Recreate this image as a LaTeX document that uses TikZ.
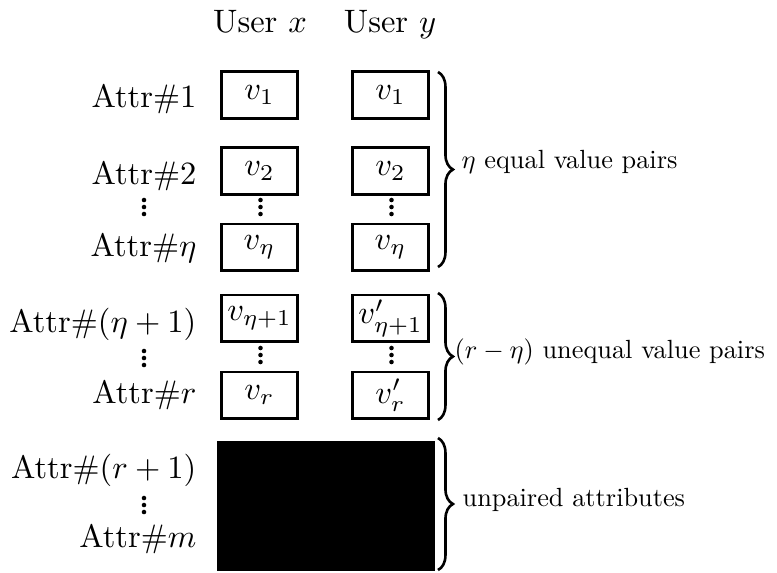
\documentclass[tikz,border=0pt]{standalone}
\usetikzlibrary{decorations.pathreplacing}
\newcommand{\notetext}[1]{\scalebox{0.81}{#1}}
\begin{document}
\begin{tikzpicture}[x=0.308pt,y=-0.308pt,
  valbox/.style={draw,line width=0.9pt,minimum width=23.3pt,minimum height=14.2pt,inner sep=0pt},
  blackbox/.style={fill=black,draw=black},
  attr/.style={anchor=base east,inner sep=0pt},
  head/.style={anchor=base,inner sep=0pt},
  note/.style={anchor=base west,inner sep=0pt},
  brc/.style={decorate,decoration={brace,amplitude=4.6pt},line width=0.8pt},
  vdot/.style={fill=black,circle,inner sep=0pt,minimum size=1.4pt}]
\useasboundingbox (0,0) rectangle (777,572);

% column headings
\node[head] (ux) at (260,32) {User $x$};
\node[head] (uy) at (390,32) {User $y$};

% attribute names
\node[attr] (a1)  at (197,107) {Attr\#1};
\node[attr] (a2)  at (197,184) {Attr\#2};
\node[attr] (ae)  at (197,256) {Attr\#$\eta$};
\node[attr] (ae1) at (197,332) {Attr\#$(\eta+1)$};
\node[attr] (ar)  at (197,403) {Attr\#$r$};
\node[attr] (ar1) at (197,478) {Attr\#$(r+1)$};
\node[attr] (am)  at (197,547) {Attr\#$m$};

% value boxes of user x
\node[valbox] (x1)  at (259.5,95)  {$v_1$};
\node[valbox] (x2)  at (259.5,171) {$v_2$};
\node[valbox] (xe)  at (259.5,247) {$v_\eta$};
\node[valbox] (xe1) at (259.5,318) {$v_{\eta+1}$};
\node[valbox] (xr)  at (259.5,395) {$v_r$};

% value boxes of user y
\node[valbox] (y1)  at (390.5,95)  {$v_1$};
\node[valbox] (y2)  at (390.5,171) {$v_2$};
\node[valbox] (ye)  at (390.5,247) {$v_\eta$};
\node[valbox] (ye1) at (390.5,318) {$v'_{\eta+1}$};
\node[valbox] (yr)  at (390.5,395) {$v'_r$};

% unpaired attributes
\node[blackbox,minimum width=67pt,minimum height=39.4pt,inner sep=0pt] (blk) at (326,506) {};

% vertical ellipses
\foreach \cx/\cy in {144/207, 260.5/207, 391.5/207, 144/358, 260.5/355, 391.5/355, 144/505}{
  \node[vdot] at (\cx,\cy-7) {};
  \node[vdot] at (\cx,\cy) {};
  \node[vdot] at (\cx,\cy+7) {};
}

% braces
\coordinate (b1t) at (438,72);  \coordinate (b1b) at (438,267);
\coordinate (b2t) at (438,293); \coordinate (b2b) at (438,420);
\coordinate (b3t) at (438,438); \coordinate (b3b) at (438,570);
\draw[brc] (b1t) -- (b1b);
\draw[brc] (b2t) -- (b2b);
\draw[brc] (b3t) -- (b3b);

\node[note] (n1) at (461,168) {\notetext{$\eta$ equal value pairs}};
\node[note] (n2) at (454,358) {\notetext{$(r-\eta)$ unequal value pairs}};
\node[note] (n3) at (462,506) {\notetext{unpaired attributes}};
\end{tikzpicture}
\end{document}
